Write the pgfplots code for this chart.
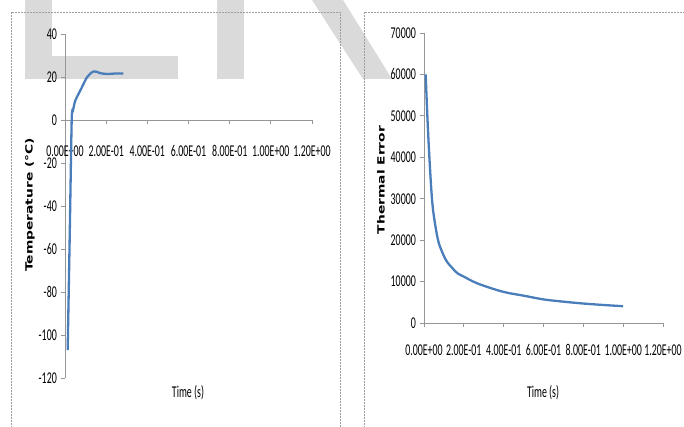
\documentclass[border=0pt]{standalone}
\usepackage{pgfplots}
\pgfplotsset{compat=1.18}
\usepackage{fontspec}
\setmainfont{Carlito}
\newfontfamily\tickfont[FakeStretch=0.6]{Carlito}
\newfontfamily\labfont{DejaVu Sans}
\definecolor{serblue}{RGB}{74,126,187}
\definecolor{axgray}{RGB}{150,150,150}
\definecolor{wmgray}{RGB}{218,218,218}
\newcommand{\tk}{\tickfont\fontsize{16.5}{18}\selectfont}
\newcommand{\ylab}[1]{\scalebox{1}[0.72]{\labfont\bfseries\fontsize{13.8}{15}\selectfont #1}}
\pgfplotsset{
  excelstyle/.style={
    scale only axis,
    axis y line=left,
    axis x line=bottom,
    axis line style={axgray, line width=0.8pt, -},
    tick style={axgray, line width=0.8pt},
    tick align=outside,
    major tick length=4pt,
    scaled y ticks=false,
    scaled x ticks=false,
    xmin=0, xmax=1.2,
    xtick={0,0.2,0.4,0.6,0.8,1.0,1.2},
    xticklabels={0.00E+00,2.00E-01,4.00E-01,6.00E-01,8.00E-01,1.00E+00,1.20E+00},
    yticklabel style={font=\tk, anchor=east, inner sep=0pt, xshift=-4pt},
    clip=false,
  }
}
\begin{document}
\begin{tikzpicture}[x=1pt,y=1pt]
% watermark remnants
\fill[wmgray] (25pt,426pt) rectangle (52pt,347pt);
\fill[wmgray] (25pt,370pt) rectangle (178pt,347pt);
\fill[wmgray] (217pt,426pt) rectangle (244pt,347pt);
\fill[wmgray] (312pt,426pt) -- (343pt,426pt) -- (392pt,347pt) -- (363pt,347pt) -- cycle;
% panel frames
\draw[gray!75, line width=0.6pt, dash pattern=on 2pt off 1pt] (11pt,-2pt) -- (11pt,414pt) -- (340pt,414pt) -- (340pt,-2pt);
\draw[gray!75, line width=0.6pt, dash pattern=on 2pt off 1pt] (364pt,-2pt) -- (364pt,414pt) -- (686pt,414pt);

\begin{axis}[excelstyle,
  at={(65pt,48pt)}, anchor=south west,
  width=247pt, height=344pt,
  axis x line shift=-258pt,
  ymin=-120, ymax=40,
  ytick={-120,-100,-80,-60,-40,-20,0,20,40},
  yticklabels={-120,-100,-80,-60,-40,-20,0,20,40},
  xticklabel style={font=\tk, anchor=center, inner sep=0pt, yshift=-27pt},
  xlabel={\tk Time (s)},
  xlabel style={at={(axis description cs:0.498,-0.0436)}, anchor=center, inner sep=0pt},
  ylabel={\ylab{Temperature (°C)}},
  ylabel style={at={(axis description cs:-0.1417,0.503)}, anchor=center, inner sep=0pt},
]
\addplot[serblue, line width=2.3pt, smooth, tension=0.4] coordinates {
(0.013,-107) (0.0228,-54.5) (0.0325,0) (0.038,4) (0.049,8.8) (0.065,12)
(0.081,15) (0.105,19.6) (0.127,21.9) (0.141,22.6) (0.155,22.4) (0.170,21.8)
(0.203,21.4) (0.243,21.6) (0.284,21.6)
};
\end{axis}

\begin{axis}[excelstyle,
  at={(424pt,103pt)}, anchor=south west,
  width=239pt, height=290pt,
  ymin=0, ymax=70000,
  ytick={0,10000,20000,30000,40000,50000,60000,70000},
  yticklabels={0,10000,20000,30000,40000,50000,60000,70000},
  xticklabel style={font=\tk, anchor=center, inner sep=0pt, yshift=-23pt},
  xlabel={\tk Time (s)},
  xlabel style={at={(axis description cs:0.498,-0.241)}, anchor=center, inner sep=0pt},
  ylabel={\ylab{Thermal Error}},
  ylabel style={at={(axis description cs:-0.18,0.493)}, anchor=center, inner sep=0pt},
]
\addplot[serblue, line width=2.3pt, smooth, tension=0.6] coordinates {
(0.0084,60000) (0.0168,50000) (0.027,40000) (0.040,30000) (0.052,25000)
(0.0705,20000) (0.088,17500) (0.1125,15000) (0.138,13500) (0.168,12000)
(0.2,11200) (0.247,10000) (0.3,9000) (0.4,7500)
(0.5,6600) (0.6,5700) (0.7,5150) (0.8,4700) (0.9,4350) (1.0,4050)
};
\end{axis}
\pgfresetboundingbox
\path[use as bounding box] (0pt,0pt) rectangle (684pt,426pt);
\end{tikzpicture}
\end{document}
